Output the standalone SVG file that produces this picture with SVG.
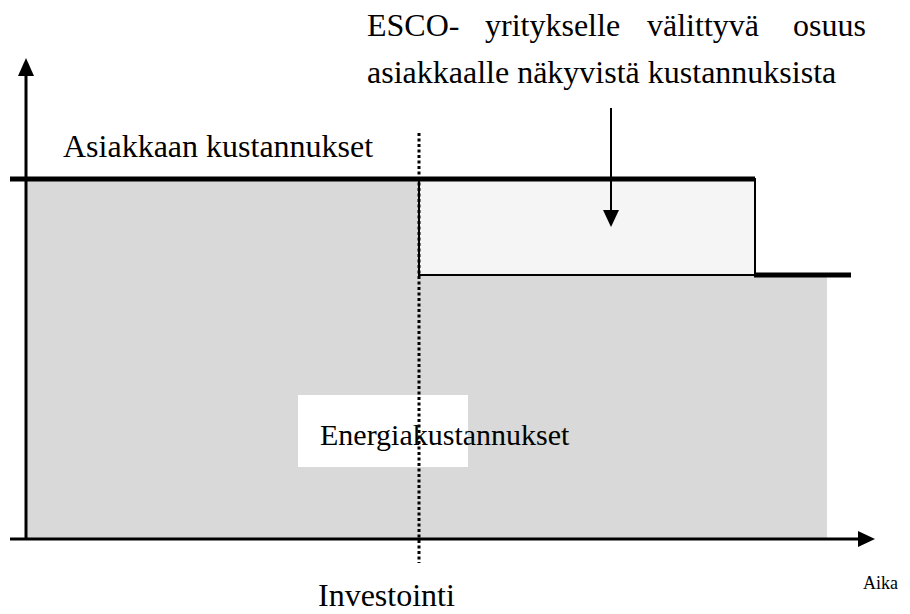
<svg xmlns="http://www.w3.org/2000/svg" width="910" height="614" viewBox="0 0 910 614">
<defs>
<style>
text{font-family:'Liberation Serif','Times New Roman',Times,serif;fill:#000}
.ax{stroke:#000;stroke-width:3;fill:none}
.thick{stroke:#000;stroke-width:5;fill:none}
</style>
</defs>
<rect width="910" height="614" fill="#fff"/>
<g id="areas">
<rect x="26" y="179" width="393" height="360" fill="#d9d9d9"/>
<rect x="419" y="275" width="408" height="264" fill="#d9d9d9"/>
<rect x="419" y="179" width="336" height="96" fill="#f5f5f5" stroke="#000" stroke-width="2"/>
<rect x="298" y="395" width="170" height="72" fill="#fff"/>
</g>
<g id="axes">
<line class="ax" x1="26" y1="540" x2="26" y2="74"/>
<path d="M18,76 L26,58 L34,76 Z" fill="#000"/>
<line class="ax" x1="10" y1="539" x2="860" y2="539"/>
<path d="M858,531 L875,539 L858,547 Z" fill="#000"/>
</g>
<g id="lines">
<line class="thick" x1="10" y1="179" x2="755" y2="179"/>
<line class="thick" x1="754" y1="275" x2="851" y2="275"/>
<line stroke="#000" stroke-width="2" x1="611" y1="108" x2="611" y2="212"/>
<path d="M603,210 L611,227 L619,210 Z" fill="#000"/>
</g>
<g id="labels">
<text x="63" y="157" font-size="32">Asiakkaan kustannukset</text>
<text x="367" y="36" font-size="32">ESCO-</text>
<text x="485" y="36" font-size="32">yritykselle</text>
<text x="647" y="36" font-size="32">välittyvä</text>
<text x="793" y="36" font-size="32">osuus</text>
<text x="367" y="83" font-size="32">asiakkaalle näkyvistä kustannuksista</text>
<text x="320" y="445" font-size="30">Energiakustannukset</text>
<text x="318" y="606" font-size="32">Investointi</text>
<text x="863" y="589" font-size="18">Aika</text>
</g>
<g id="connectors">
<line stroke="#000" stroke-width="3" stroke-dasharray="3 2.5" x1="419" y1="133" x2="419" y2="563"/>
</g>
</svg>
